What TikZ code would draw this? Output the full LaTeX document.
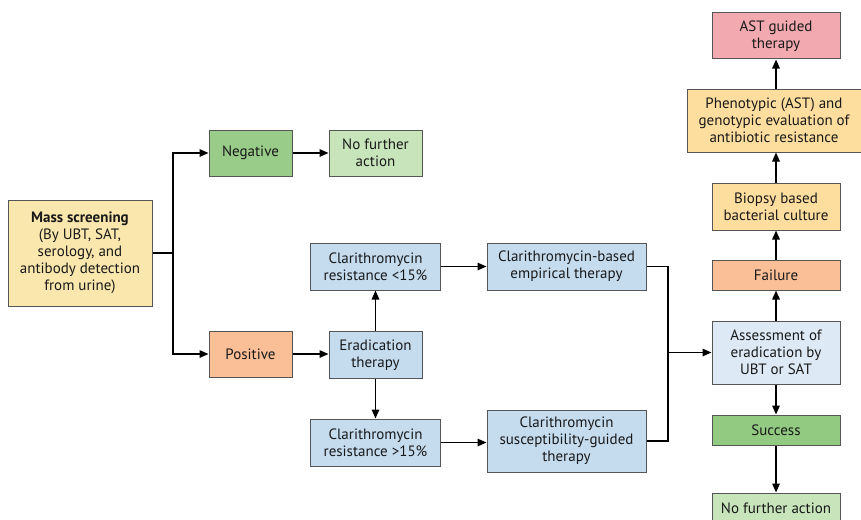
\documentclass[tikz,border=0pt]{standalone}
\usepackage{fontspec}
\setmainfont{PT Sans}
\usetikzlibrary{arrows.meta}
\definecolor{cYel}{HTML}{F9E7AE}
\definecolor{cNeg}{HTML}{99CC88}
\definecolor{cNfa}{HTML}{C8E4BA}
\definecolor{cPos}{HTML}{FBBF98}
\definecolor{cBlue}{HTML}{C5DCEF}
\definecolor{cLBlue}{HTML}{DDEAF6}
\definecolor{cSuc}{HTML}{92CA82}
\definecolor{cOra}{HTML}{FDDE9F}
\definecolor{cAst}{HTML}{F2A9B0}
\definecolor{cBorder}{HTML}{555555}
\tikzset{
  box/.style={draw=cBorder, line width=1pt, inner sep=0pt, align=center,
    font=\fontsize{15}{17}\selectfont, text=black!90},
  conn/.style={line width=1.5pt, draw=black},
  arr/.style={conn, -{Triangle[length=9pt,width=7.5pt]}}
}
\begin{document}
\begin{tikzpicture}[x=1pt,y=-1pt]
\clip (0,0) rectangle (861,519);
\fill[white] (0,0) rectangle (861,519);
\node[box, fill=cYel, minimum width=144, minimum height=106] (mass) at (80,253)
  {\textbf{Mass screening}\\(By UBT, SAT,\\serology, and\\antibody detection\\from urine)};
\node[box, fill=cNeg, minimum width=83, minimum height=46] (neg) at (250.5,153) {Negative};
\node[box, fill=cNfa, minimum width=93, minimum height=46] (nfa1) at (375.5,153) {No further\\action};
\node[box, fill=cPos, minimum width=83, minimum height=46] (pos) at (250.5,354) {Positive};
\node[box, fill=cBlue, minimum width=93, minimum height=47] (erad) at (375.5,355) {Eradication\\therapy};
\node[box, fill=cBlue, minimum width=130, minimum height=47] (low) at (375.5,266.5) {Clarithromycin\\resistance <15\%};
\node[box, fill=cBlue, minimum width=130, minimum height=47] (high) at (375.5,442.5) {Clarithromycin\\resistance >15\%};
\node[box, fill=cBlue, minimum width=159, minimum height=47] (emp) at (566.5,266.5) {Clarithromycin-based\\empirical therapy};
\node[box, fill=cBlue, minimum width=159, minimum height=62] (sus) at (566.5,441) {Clarithromycin\\susceptibility-guided\\therapy};
\node[box, fill=cLBlue, minimum width=128, minimum height=63] (assess) at (776,352.5) {Assessment of\\eradication by\\UBT or SAT};
\node[box, fill=cSuc, minimum width=128, minimum height=30] (suc) at (776,430) {Success};
\node[box, fill=cNfa, minimum width=128, minimum height=30] (nfa2) at (776,508) {No further action};
\node[box, fill=cPos, minimum width=128, minimum height=30] (fail) at (776,275) {Failure};
\node[box, fill=cOra, minimum width=128, minimum height=47] (bio) at (776,206.5) {Biopsy based\\bacterial culture};
\node[box, fill=cOra, minimum width=174, minimum height=63] (pheno) at (774,120.5) {Phenotypic (AST) and\\genotypic evaluation of\\antibiotic resistance};
\node[box, fill=cAst, minimum width=128, minimum height=46] (ast) at (776,36) {AST guided\\therapy};
\coordinate (jl) at (173,253);
\coordinate (jr) at (668,352.5);
\draw[conn] (mass.east) -- (jl);
\draw[arr] (jl) |- (neg.west);
\draw[arr] (jl) |- (pos.west);
\draw[arr] (neg) -- (nfa1);
\draw[arr] (pos) -- (erad.west |- pos.east);
\draw[arr] (erad) -- (low);
\draw[arr] (erad) -- (high);
\draw[arr] (low) -- (emp);
\draw[arr] (high.east) -- (high.east -| sus.west);
\draw[conn] (emp.east) -| (jr) |- (sus.east);
\draw[arr] (jr) -- (assess.west);
\draw[arr] (assess) -- (fail);
\draw[arr] (fail) -- (bio);
\draw[arr] (bio.north) -- (bio.north |- pheno.south);
\draw[arr] (pheno.north -| ast.south) -- (ast.south);
\draw[arr] (assess) -- (suc);
\draw[arr] (suc) -- (nfa2);
\end{tikzpicture}
\end{document}
